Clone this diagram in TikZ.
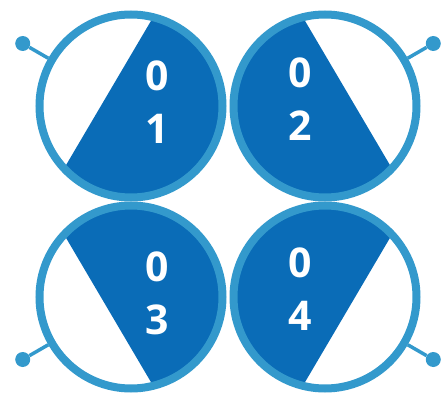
\documentclass[tikz,border=0pt]{standalone}
\usepackage{fontspec}
\setmainfont{Open Sans}
\definecolor{ringblue}{RGB}{51,153,204}
\definecolor{deepblue}{RGB}{10,108,183}
\usetikzlibrary{positioning,calc}

\begin{document}
\begin{tikzpicture}[
  x=1pt, y=1pt,
  ringnode/.style={circle, draw=ringblue, line width=8pt, minimum size=183pt, inner sep=0pt},
  pinline/.style={draw=ringblue, line width=3.5pt},
  pindot/.style={circle, fill=ringblue, inner sep=0pt, minimum size=15pt},
  digits/.style={text=white, font=\fontsize{41}{53}\selectfont\bfseries, align=center}
]
\useasboundingbox (0,0) rectangle (445,392);

% dark segments
\fill[deepblue] (131,286) ++(76:91.5) arc[start angle=76, end angle=-137, radius=91.5] -- cycle;
\fill[deepblue] (325,286) ++(104:91.5) arc[start angle=104, end angle=317, radius=91.5] -- cycle;
\fill[deepblue] (131,95) ++(137:91.5) arc[start angle=137, end angle=-76, radius=91.5] -- cycle;
\fill[deepblue] (325,95) ++(43:91.5) arc[start angle=43, end angle=256, radius=91.5] -- cycle;

% rings
\node[ringnode] (c1) at (131,286) {};
\node[ringnode] (c2) at (325,286) {};
\node[ringnode] (c3) at (131,95)  {};
\node[ringnode] (c4) at (325,95)  {};

% pins
\node[pindot] (p1) at ($(c1)+(150:125)$) {};
\node[pindot] (p2) at ($(c2)+(30:125)$)  {};
\node[pindot] (p3) at ($(c3)+(210:125)$) {};
\node[pindot] (p4) at ($(c4)+(-30:125)$) {};
\draw[pinline] (c1.150) -- (p1);
\draw[pinline] (c2.30)  -- (p2);
\draw[pinline] (c3.210) -- (p3);
\draw[pinline] (c4.-30) -- (p4);

% numbers
\node[digits] (n1) at (157,290) {0\\1};
\node[digits] (n2) at (300,293) {0\\2};
\node[digits] (n3) at (157,99)  {0\\3};
\node[digits] (n4) at (300,103) {0\\4};
\end{tikzpicture}
\end{document}
